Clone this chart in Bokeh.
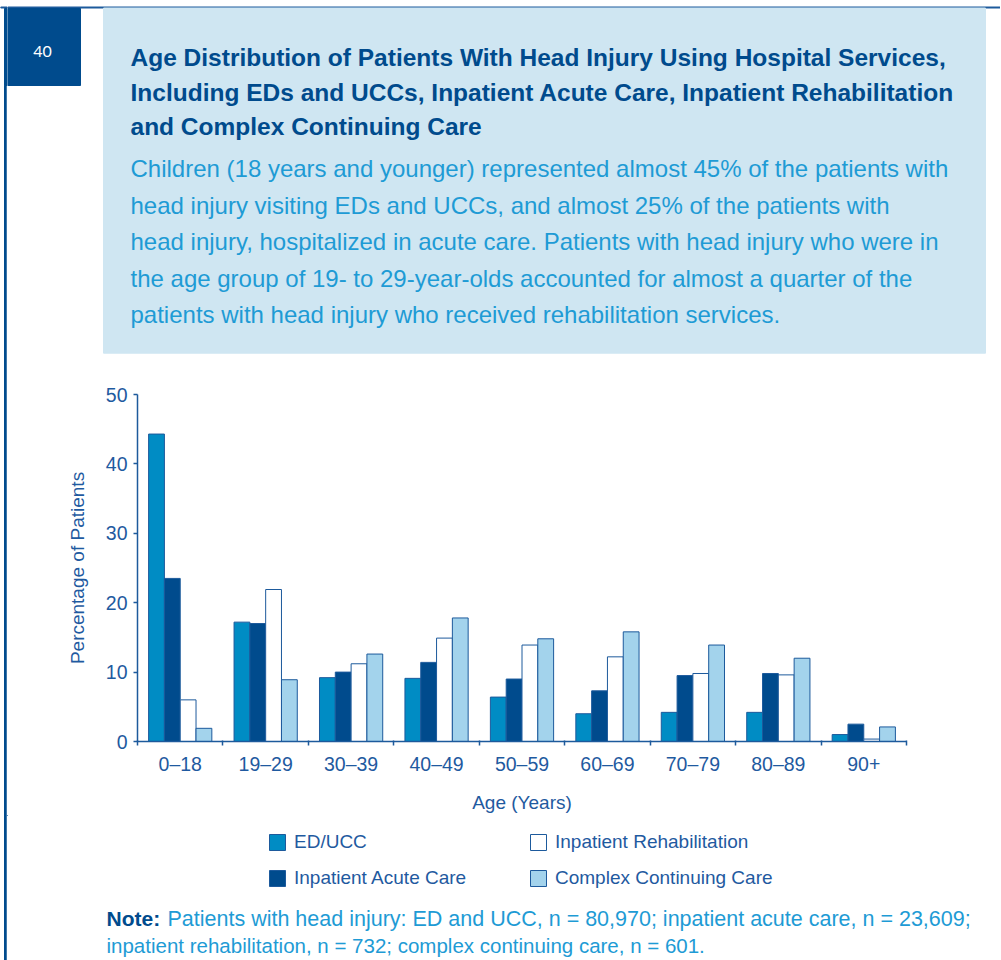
from bokeh.plotting import figure
from bokeh.layouts import row, column
from bokeh.models import (ColumnDataSource, Range1d, FixedTicker, Label, Legend, LegendItem)
from bokeh.transform import dodge
from bokeh.embed import file_html
from bokeh.resources import INLINE

# ---- data ----
categories = ["0\u201318", "19\u201329", "30\u201339", "40\u201349", "50\u201359",
              "60\u201369", "70\u201379", "80\u201389", "90+"]
ed_ucc = [44.3, 17.2, 9.2, 9.1, 6.4, 4.0, 4.2, 4.2, 1.0]
acute_care = [23.5, 17.0, 10.0, 11.4, 9.0, 7.3, 9.5, 9.8, 2.5]
rehabilitation = [6.0, 21.9, 11.2, 14.9, 13.9, 12.2, 9.8, 9.6, 0.35]
continuing_care = [1.9, 8.9, 12.6, 17.8, 14.8, 15.8, 13.9, 12.0, 2.1]
y_ticks = [0, 10, 20, 30, 40, 50]
series_names = ["ED/UCC", "Inpatient Acute Care", "Inpatient Rehabilitation",
                "Complex Continuing Care"]

title_lines = [
    "Age Distribution of Patients With Head Injury Using Hospital Services,",
    "Including EDs and UCCs, Inpatient Acute Care, Inpatient Rehabilitation",
    "and Complex Continuing Care",
]
body_lines = [
    "Children (18 years and younger) represented almost 45% of the patients with",
    "head injury visiting EDs and UCCs, and almost 25% of the patients with",
    "head injury, hospitalized in acute care. Patients with head injury who were in",
    "the age group of 19- to 29-year-olds accounted for almost a quarter of the",
    "patients with head injury who received rehabilitation services.",
]
note_label = "Note:"
note_line1 = "Patients with head injury: ED and UCC, n = 80,970; inpatient acute care, n = 23,609;"
note_line2 = "inpatient rehabilitation, n = 732; complex continuing care, n = 601."

# ---- styles ----
DARK = "#004b8d"
MID = "#008cc4"
LIGHT = "#a3d3ec"
OUTLINE = "#1d5a9c"
AXIS_TXT = "#1f5aa0"
BODY = "#1e9bd5"
PANEL = "#cfe6f2"
FONT = "Liberation Sans"
FILLS = [MID, DARK, "white", LIGHT]

PAGE_W, PAGE_H = 1000, 960
STRIP_W = 7
COL_W = PAGE_W - STRIP_W
HEAD_H, CHART_H = 360, 455
FOOT_H = PAGE_H - HEAD_H - CHART_H


def canvas_fig(width, height, x0, y0):
    """Figure whose frame fills the canvas; data units == page pixels (y down)."""
    f = figure(width=width, height=height, output_backend="svg", toolbar_location=None,
               x_range=Range1d(x0, x0 + width), y_range=Range1d(y0 + height, y0),
               x_axis_location=None, y_axis_location=None, min_border=0,
               frame_align=False)
    f.outline_line_color = None
    f.grid.grid_line_color = None
    return f


def lab(f, x, y, text, size, color, style="normal", font=FONT, align="left"):
    f.add_layout(Label(x=x, y=y, text=text, text_font=font, text_font_size=size,
                       text_font_style=style, text_color=color,
                       text_baseline="alphabetic", text_align=align))


# ---- left strip (page rule) ----
strip = canvas_fig(STRIP_W, PAGE_H, 0, 0)
strip.quad(left=[0], right=[STRIP_W], top=[6.5], bottom=[7.5], color=OUTLINE)
strip.quad(left=[4], right=[STRIP_W], top=[8], bottom=[85], color=DARK)
strip.quad(left=[4], right=[5.7], top=[85], bottom=[PAGE_H], color=DARK)

# ---- header ----
head = canvas_fig(COL_W, HEAD_H, STRIP_W, 0)
head.quad(left=[STRIP_W], right=[PAGE_W], top=[6.5], bottom=[7.5], color=OUTLINE)
head.quad(left=[103], right=[985], top=[7.5], bottom=[352.7], color=PANEL)
head.quad(left=[STRIP_W], right=[80], top=[8], bottom=[85], color=DARK)
lab(head, 42, 51, "40", "16px", "white", font="Lato", align="center")
for i, t in enumerate(title_lines):
    lab(head, 130, 57.3 + i * 34.4, t, "24.5px", DARK, style="bold")
for i, t in enumerate(body_lines):
    lab(head, 130, 168 + i * 36.6, t, "24px", BODY)

# ---- chart ----
src = ColumnDataSource(dict(x=list(range(len(categories))), ed=ed_ucc, acute=acute_care,
                            rehab=rehabilitation, ccc=continuing_care))
p = figure(width=COL_W, height=CHART_H, output_backend="svg", toolbar_location=None,
           x_range=Range1d(-0.5, len(categories) - 0.5), y_range=Range1d(0, 50),
           min_border_left=137 - STRIP_W, min_border_right=PAGE_W - 906,
           min_border_top=394 - HEAD_H, min_border_bottom=HEAD_H + CHART_H - 741,
           frame_align=False)
p.outline_line_color = None
p.grid.grid_line_color = None

bw = 0.185
cols = ["ed", "acute", "rehab", "ccc"]
for k, (c, fc) in enumerate(zip(cols, FILLS)):
    p.vbar(x=dodge("x", (k - 1.5) * bw, range=p.x_range), top=c, width=bw, source=src,
           fill_color=fc, line_color=OUTLINE, line_width=1)

xa = p.xaxis[0]
xa.ticker = FixedTicker(ticks=list(range(len(categories))),
                        minor_ticks=[i - 0.5 for i in range(len(categories) + 1)])
xa.major_label_overrides = {i: c for i, c in enumerate(categories)}
xa.major_tick_line_color = None
xa.major_tick_out = 0
xa.major_tick_in = 0
xa.minor_tick_line_color = OUTLINE
xa.minor_tick_line_width = 1.5
xa.minor_tick_out = 4
xa.minor_tick_in = 1
xa.axis_line_color = OUTLINE
xa.axis_line_width = 1.5
xa.major_label_text_font = FONT
xa.major_label_text_font_size = "19.5px"
xa.major_label_text_color = AXIS_TXT
xa.major_label_standoff = 7
xa.axis_label = "Age (Years)"
xa.axis_label_text_font = FONT
xa.axis_label_text_font_size = "19px"
xa.axis_label_text_font_style = "normal"
xa.axis_label_text_color = AXIS_TXT
xa.axis_label_standoff = 14

ya = p.yaxis[0]
ya.ticker = FixedTicker(ticks=y_ticks, minor_ticks=[])
ya.major_tick_line_color = OUTLINE
ya.major_tick_line_width = 1.5
ya.major_tick_out = 4
ya.major_tick_in = 0
ya.axis_line_color = OUTLINE
ya.axis_line_width = 1.5
ya.major_label_text_font = FONT
ya.major_label_text_font_size = "19.5px"
ya.major_label_text_color = AXIS_TXT
ya.major_label_standoff = 6
ya.axis_label = "Percentage of Patients"
ya.axis_label_text_font = FONT
ya.axis_label_text_font_size = "19px"
ya.axis_label_text_font_style = "normal"
ya.axis_label_text_color = AXIS_TXT
ya.axis_label_standoff = 15

# ---- footer: legend + note ----
foot = canvas_fig(COL_W, FOOT_H, STRIP_W, HEAD_H + CHART_H)
# legend swatch renderers (one hidden point each, placed off-canvas)
swatches = [foot.vbar(x=[-500], top=[-500], bottom=[-499], width=1, fill_color=fc,
                      line_color=OUTLINE, line_width=1) for fc in FILLS]


def make_legend(idx, x, y):
    lg = Legend(items=[LegendItem(label=series_names[i], renderers=[swatches[i]]) for i in idx],
                location=(x, y), orientation="vertical",
                border_line_color=None, background_fill_alpha=0, padding=0, margin=0,
                glyph_width=20, glyph_height=20, label_standoff=7, spacing=14,
                label_text_font=FONT, label_text_font_size="19px",
                label_text_color=AXIS_TXT, label_height=20)
    foot.add_layout(lg, "center")


make_legend([0, 1], 267 - STRIP_W, PAGE_H - 889)
make_legend([2, 3], 528 - STRIP_W, PAGE_H - 889)

lab(foot, 106, 918, note_label, "21px", DARK, style="bold")
lab(foot, 167, 918, note_line1, "21.5px", BODY)
lab(foot, 106, 945, note_line2, "20.5px", BODY)

layout = row(strip, column(head, p, foot))
open("out.html", "w").write(file_html(layout, INLINE))
